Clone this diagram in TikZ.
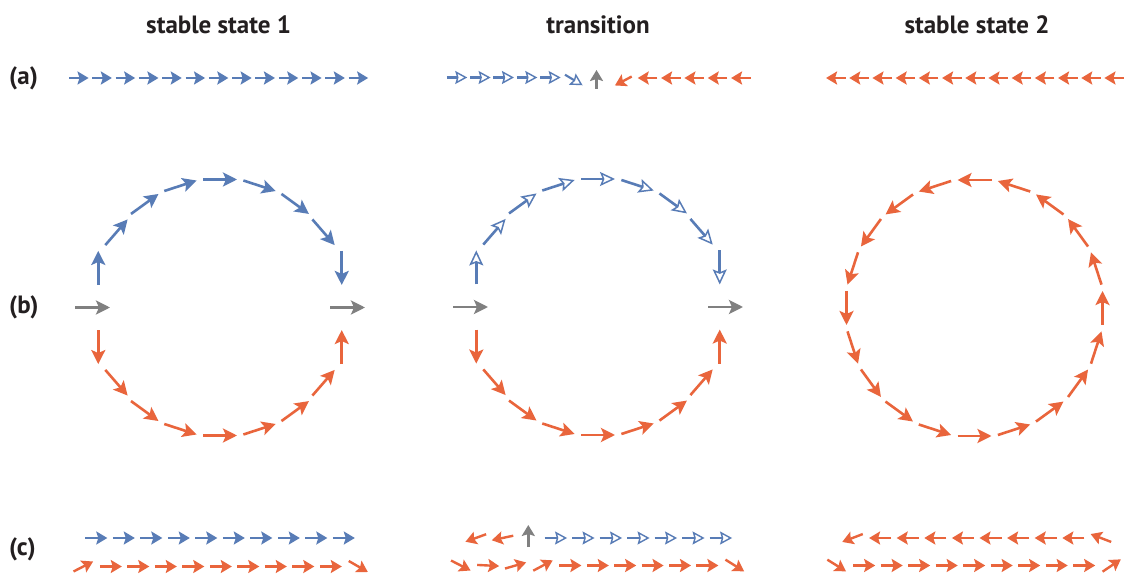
\documentclass[tikz,border=0pt]{standalone}
\usepackage{fontspec}
\setmainfont{PT Sans}
\usetikzlibrary{arrows.meta,calc}

\definecolor{spinblue}{RGB}{88,124,182}
\definecolor{spinred}{RGB}{233,101,60}
\definecolor{spingray}{RGB}{128,128,128}
\definecolor{ink}{RGB}{35,31,32}

\tikzset{
  % short spins in the chains
  sp/.style={line width=2.4pt, -{Stealth[length=11pt,width=13pt,inset=2pt]}},
  spo/.style={line width=2.1pt, -{Stealth[open,length=12pt,width=13pt,inset=1.8pt,line width=1.4pt]}},
  % longer spins round the rings
  rg/.style={line width=2.6pt, -{Stealth[length=14pt,width=14pt,inset=3pt]}},
  rgo/.style={line width=2.6pt, -{Stealth[open,length=15pt,width=14pt,inset=2.8pt,line width=1.5pt]}},
  title/.style={font=\fontsize{25}{30}\selectfont\bfseries, text=ink, anchor=base, inner sep=0pt},
  rowlabel/.style={font=\fontsize{25}{30}\selectfont\bfseries, text=ink, anchor=base west, inner sep=0pt},
}

% spin arrow of given style centred at a point, with direction and length
\newcommand{\spinat}[4]{\draw[#1] ($#2+(#3+180:#4/2)$) -- ($#2+(#3:#4/2)$);}

\begin{document}
\begin{tikzpicture}[x=1pt,y=1pt]
\useasboundingbox (0,0) rectangle (1128,-577);
\fill[white] (0,0) rectangle (1128,-577);

% column titles
\node[title] (t1) at (218.7,-33.5) {stable state 1};
\node[title] (t2) at (598,-33.5) {transition};
\node[title] (t3) at (977,-33.5) {stable state 2};

% row labels
\node[rowlabel] (la) at (9,-85) {(a)};
\node[rowlabel] (lb) at (9,-314) {(b)};
\node[rowlabel] (lc) at (9,-555.5) {(c)};

% ---------- row (a): linear chains ----------
\foreach \k in {0,...,12}
  \spinat{sp,spinblue}{(78.8+23.3*\k,-78)}{0}{19.5};

\foreach \k in {0,...,4}
  \spinat{spo,spinblue}{(457+23.35*\k,-77.5)}{0}{20.5};
\spinat{spo,spinblue}{(573.8,-80)}{-31}{20.5};
\spinat{sp,spingray}{(596.5,-79.5)}{90}{19};
\spinat{sp,spinred}{(623.3,-81)}{208}{19};
\foreach \k in {0,...,4}
  \spinat{sp,spinred}{(647.5+23.33*\k,-78)}{180}{19.5};

\foreach \k in {0,...,12}
  \spinat{sp,spinred}{(835.8+23.2*\k,-78)}{180}{19.5};

% ---------- row (b): rings ----------
\coordinate (r1) at (220,-307.5);
\coordinate (r2) at (598,-307);
\coordinate (r3) at (974.5,-308);

\foreach \j/\d in {-4/-90,-3/-49,-2/-36,-1/-18,0/0,1/18,2/36,3/49,4/90} {
  \spinat{rg,spinblue}{($(r1)+(90+18*\j:128)$)}{\d}{34}
  \spinat{rg,spinred}{($(r1)+(270+18*\j:128)$)}{\d}{34}
  \spinat{rgo,spinblue}{($(r2)+(90+18*\j:128)$)}{\d}{34}
  \spinat{rg,spinred}{($(r2)+(270+18*\j:128)$)}{\d}{34}
}
\spinat{rg,spingray}{($(r1)+(180:127.5)$)}{0}{35}
\spinat{rg,spingray}{($(r1)+(0:127.5)$)}{0}{35}
\spinat{rg,spingray}{($(r2)+(180:127.5)$)}{0}{35}
\spinat{rg,spingray}{($(r2)+(0:127.5)$)}{0}{35}

\foreach \k in {0,...,19}
  \spinat{rg,spinred}{($(r3)+(18*\k:128)$)}{18*\k+90}{34};

% ---------- row (c): double chains ----------
\foreach \k in {0,...,9}
  \spinat{sp,spinblue}{(96.3+27.5*\k,-538)}{0}{22};
\foreach \k/\a in {0/27,1/0,2/0,3/0,4/0,5/0,6/0,7/0,8/0,9/0,10/-30}
  \spinat{sp,spinred}{(83.3+27.5*\k,-566.5)}{\a}{22};

\spinat{sp,spinred}{(475.8,-538)}{200}{22};
\spinat{sp,spinred}{(502.5,-538)}{192}{22};
\spinat{sp,spingray}{(528.3,-536)}{90}{22};
\foreach \k in {0,...,6}
  \spinat{spo,spinblue}{(555.8+27.5*\k,-538)}{0}{22.5};
\foreach \k/\a in {0/-27,1/-3,2/16,3/28,4/0,5/0,6/0,7/0,8/0,9/0,10/-32}
  \spinat{sp,spinred}{(460.8+27.4*\k,-565.5)}{\a}{22};

\foreach \k/\a in {0/201,1/180,2/180,3/180,4/180,5/180,6/180,7/180,8/180,9/159}
  \spinat{sp,spinred}{(852.5+27.6*\k,-538)}{\a}{22};
\foreach \k/\a in {0/-32,1/0,2/0,3/0,4/0,5/0,6/0,7/0,8/0,9/0,10/34}
  \spinat{sp,spinred}{(836.7+27.5*\k,-565.5)}{\a}{22};

\end{tikzpicture}
\end{document}
